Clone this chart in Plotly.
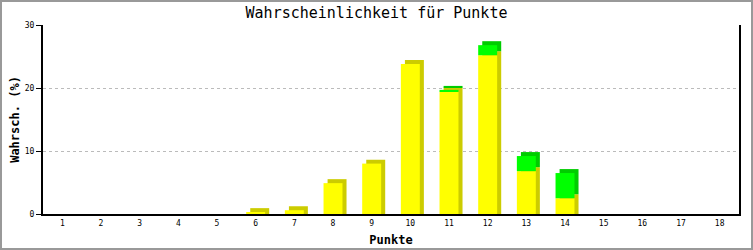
import plotly.graph_objects as go

punkte = list(range(1, 19))
tick_labels = [str(p) for p in punkte]
gelb = [0, 0, 0, 0, 0, 0.3, 0.6, 4.9, 8.0, 23.8, 19.4, 25.2, 6.8, 2.5, 0, 0, 0, 0]
gruen = [0, 0, 0, 0, 0, 0, 0, 0, 0, 0, 0.3, 1.6, 2.4, 4.0, 0, 0, 0, 0]

DEPTH = 0.63      # vertical depth of the 3D effect (data units)
WIDTH = 0.49      # bar width (category units)
SHIFT = 0.105     # horizontal depth shift (category units)

FONT = "DejaVu Sans Mono"

shadow_gelb = [g + DEPTH if g > 0 else 0 for g in gelb]
shadow_gruen_base = [g + DEPTH for g in gelb]

fig = go.Figure()
fig.add_trace(go.Bar(x=punkte, y=shadow_gelb, base=0, width=WIDTH,
                     offset=-WIDTH / 2 + SHIFT, marker=dict(color="#CCCC00", line=dict(width=0)),
                     showlegend=False))
fig.add_trace(go.Bar(x=punkte, y=gruen, base=shadow_gruen_base, width=WIDTH,
                     offset=-WIDTH / 2 + SHIFT, marker=dict(color="#00CC00", line=dict(width=0)),
                     showlegend=False))
fig.add_trace(go.Bar(x=punkte, y=gelb, base=0, width=WIDTH,
                     offset=-WIDTH / 2, marker=dict(color="#FFFF00", line=dict(width=0)),
                     showlegend=False))
fig.add_trace(go.Bar(x=punkte, y=gruen, base=gelb, width=WIDTH,
                     offset=-WIDTH / 2, marker=dict(color="#00FF00", line=dict(width=0)),
                     showlegend=False))

W, H = 753, 250
ml, mr, mt, mb = 43, 14, 25, 36
pw, ph = W - ml - mr, H - mt - mb

fig.update_layout(
    width=W, height=H, barmode="overlay",
    margin=dict(l=ml, r=mr, t=mt, b=mb, pad=0, autoexpand=False),
    paper_bgcolor="white", plot_bgcolor="white",
    title=dict(text="Wahrscheinlichkeit für Punkte", x=0.5, xanchor="center",
               y=1 - 13 / H, yanchor="middle", automargin=False,
               font=dict(family=FONT, size=15, color="black")),
    font=dict(family=FONT, color="black"),
    shapes=[dict(type="rect", xref="paper", yref="paper",
                 x0=-(ml - 1) / pw, x1=1 + (mr - 1) / pw,
                 y0=-(mb - 1) / ph, y1=1 + (mt - 1) / ph,
                 line=dict(color="#999999", width=2), layer="above")],
)
fig.update_xaxes(range=[0.5, 18.5], tickvals=punkte, ticktext=tick_labels,
                 showline=True, linecolor="black", linewidth=2, ticks="",
                 showgrid=False, zeroline=False, tickfont=dict(size=8, family=FONT),
                 automargin=False,
                 title=dict(text="<b>Punkte</b>", font=dict(size=12, family=FONT), standoff=9))
fig.update_yaxes(range=[0, 30], tickvals=[0, 10, 20, 30],
                 showline=True, linecolor="black", linewidth=2, mirror=True,
                 ticks="outside", ticklen=5, tickcolor="black", tickwidth=1,
                 showgrid=True, gridcolor="#BBBBBB", griddash="dot", gridwidth=1,
                 zeroline=False, tickfont=dict(size=8, family=FONT), automargin=False,
                 title=dict(text="<b>Wahrsch. (%)</b>", font=dict(size=12, family=FONT), standoff=3))

fig.write_html("out.html")
